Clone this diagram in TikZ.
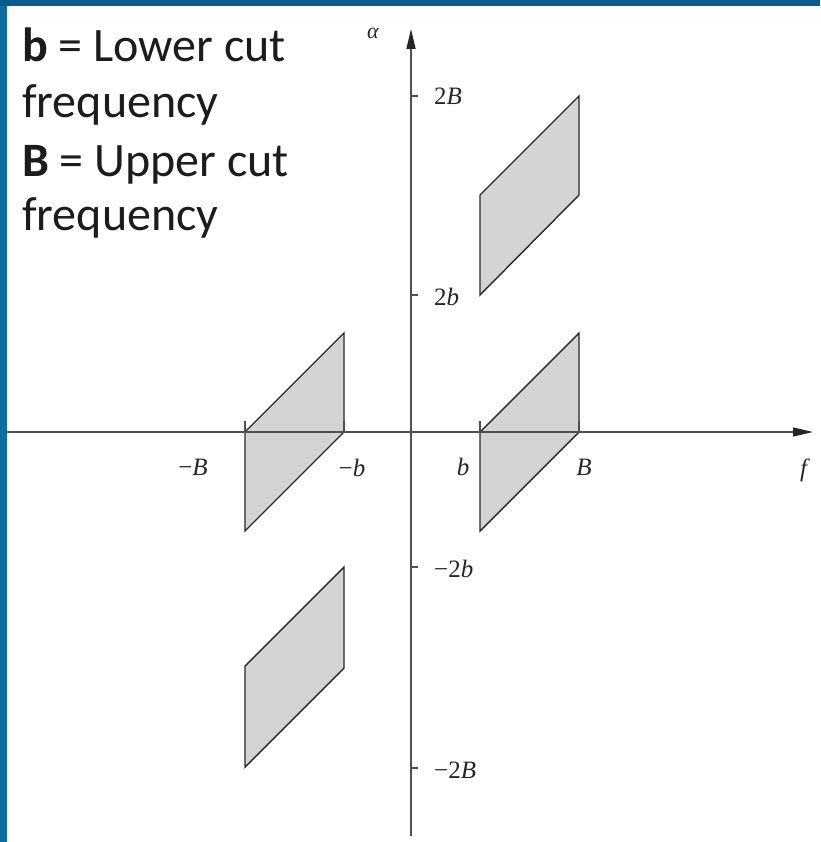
\documentclass[tikz,border=0pt]{standalone}
\usepackage{fontspec}
\setmainfont{Liberation Serif}
\newfontfamily\calfont{Carlito}
\usetikzlibrary{arrows.meta}
\definecolor{frameblue}{RGB}{14,108,160}
\definecolor{frametop}{RGB}{10,92,138}
\definecolor{bandgray}{RGB}{212,212,212}
\definecolor{edgegray}{RGB}{40,40,40}
\definecolor{axisgray}{RGB}{80,80,80}
\definecolor{legendtext}{RGB}{28,28,28}
\begin{document}
\begin{tikzpicture}[x=1pt,y=-1pt,
  band/.style={fill=bandgray,draw=edgegray,line width=1.4pt,line join=miter},
  axisline/.style={draw=axisgray,line width=1.4pt},
  tickline/.style={draw=axisgray,line width=1.1pt},
  axlabel/.style={font=\fontsize{25}{25}\selectfont,inner sep=0pt,text=black!85},
  legend/.style={font=\calfont\fontsize{48}{57}\selectfont,anchor=base west,inner sep=0pt,text=legendtext}]
\useasboundingbox (0,0) rectangle (820,842);
\fill[white] (0,0) rectangle (820,842);
% frame
\fill[frameblue] (0,0) rectangle (6.5,842);
\fill[frametop] (0,0) rectangle (820,6.5);
% bands
\draw[band] (480,295) -- (480,195) -- (579,96) -- (579,195) -- cycle;
\draw[band] (480,432) -- (579,333) -- (579,432) -- (480,531) -- cycle;
\draw[band] (245,432) -- (344,333) -- (344,432) -- (245,531) -- cycle;
\draw[band] (245,666) -- (344,567) -- (344,668) -- (245,767) -- cycle;
% axes
\coordinate (xs) at (7,432);
\coordinate (xe) at (813,432);
\coordinate (ys) at (411,836);
\coordinate (ye) at (411,29);
\draw[axisline,-{Triangle[length=20pt,width=9pt,color=black!85]}] (xs) -- (xe);
\draw[axisline,-{Triangle[length=20pt,width=9pt,color=black!85]}] (ys) -- (ye);
% ticks on f axis
\foreach \tx in {245,344,480,579} \draw[tickline] (\tx,421) -- (\tx,432);
% ticks on alpha axis
\foreach \ty in {96,295,567,768} \draw[tickline] (411,\ty) -- (418,\ty);
% labels
\node[axlabel] (lalpha) at (373,33) {\fontsize{22}{22}\selectfont\textit{α}};
\node[axlabel,anchor=west] (l2B) at (434,96) {2\textit{B}};
\node[axlabel,anchor=west] (l2b) at (434,297) {2\textit{b}};
\node[axlabel,anchor=west] (lm2b) at (434,569) {−2\textit{b}};
\node[axlabel,anchor=west] (lm2B) at (434,770) {−2\textit{B}};
\node[axlabel] (lmB) at (193,467) {−\textit{B}};
\node[axlabel] (lmb) at (352,468) {−\textit{b}};
\node[axlabel] (lb) at (463,467) {\textit{b}};
\node[axlabel] (lB) at (584,467) {\textit{B}};
\node[axlabel] (lf) at (805,470) {\textit{f}};
% legend
\node[legend] (t1) at (22,62) {\textbf{b} = Lower cut};
\node[legend] (t2) at (22,118) {frequency};
\node[legend] (t3) at (22,177) {\textbf{B} = Upper cut};
\node[legend] (t4) at (22,230) {frequency};
\end{tikzpicture}
\end{document}
